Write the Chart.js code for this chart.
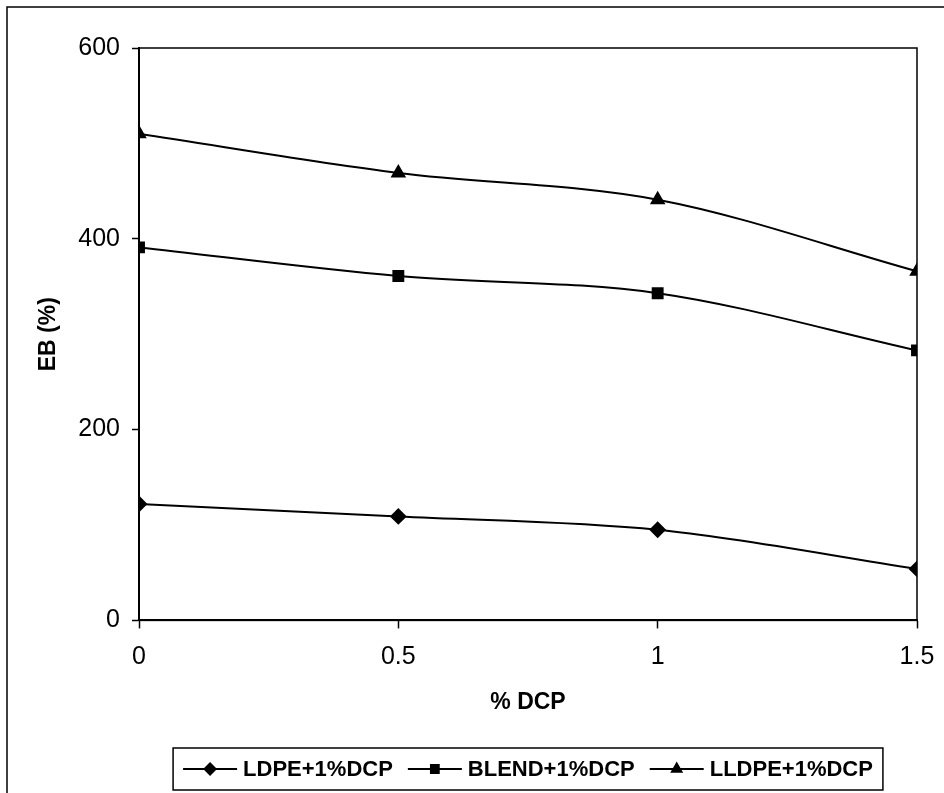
<!DOCTYPE html>
<html>
<head>
<meta charset="utf-8">
<script src="https://cdn.jsdelivr.net/npm/chart.js@4"></script>
<style>
  html, body { margin:0; padding:0; background:#fff; }
  #wrap { width:944px; height:793px; position:relative; }
</style>
</head>
<body>
<div id="wrap"><canvas id="c"></canvas></div>
<script>
// % DCP on x, EB (%) on y
const dcp = [0, 0.5, 1, 1.5];
const ldpe = [122, 109, 95, 54];
const blend = [391, 361, 343, 283];
const lldpe = [510, 469, 441, 366];
const seriesNames = ['LDPE+1%DCP', 'BLEND+1%DCP', 'LLDPE+1%DCP'];
const yTicks = [0, 200, 400, 600];
const xTicks = [0, 0.5, 1, 1.5];

const FONT = "'Liberation Sans', Arial, sans-serif";

function pts(vals){ return dcp.map((x,i)=>({x, y: vals[i]})); }

function ds(label, vals, style, r){
  return {
    label, data: pts(vals),
    borderColor:'#000', backgroundColor:'#000', borderWidth:2,
    pointStyle: style, pointRadius: r, pointHoverRadius: r,
    tension: 0.33
  };
}

// outer frame, plot frame and the legend box
const extras = {
  id:'extras',
  afterDraw(chart){
    const {ctx, chartArea:a} = chart;
    ctx.save();
    ctx.strokeStyle = '#000';
    ctx.lineWidth = 1.5;
    ctx.strokeRect(a.left, a.top, a.right - a.left, a.bottom - a.top);
    // outer border (top + left only visible)
    ctx.beginPath();
    ctx.moveTo(7, 800); ctx.lineTo(7, 7); ctx.lineTo(950, 7);
    ctx.stroke();

    // legend
    ctx.font = 'bold 22px ' + FONT;
    const lineW = 54, gap = 6, itemGap = 15, pad = 10;
    const items = chart.data.datasets.map(d => ({d, w: ctx.measureText(d.label).width}));
    let total = items.reduce((s,it)=>s + lineW + gap + it.w, 0) + itemGap*(items.length-1) + pad*2;
    const cx = (a.left + a.right)/2;
    const bx = cx - total/2, by = 748, bh = 42;
    ctx.lineWidth = 1.5;
    ctx.strokeRect(bx, by, total, bh);
    const my = by + bh/2;
    let x = bx + pad;
    ctx.fillStyle = '#000';
    ctx.textBaseline = 'middle';
    items.forEach(it => {
      ctx.lineWidth = 2;
      ctx.beginPath(); ctx.moveTo(x, my); ctx.lineTo(x + lineW, my); ctx.stroke();
      Chart.helpers.drawPoint(ctx, {pointStyle: it.d.pointStyle, radius: it.d.pointRadius - 1.5, borderWidth: 1}, x + lineW/2, my);
      ctx.fillText(it.d.label, x + lineW + gap, my + 1);
      x += lineW + gap + it.w + itemGap;
    });
    ctx.restore();
  }
};

new Chart(document.getElementById('c'), {
  type:'line',
  data:{
    datasets:[
      ds(seriesNames[0], ldpe, 'rectRot', 7),
      ds(seriesNames[1], blend, 'rect', 7),
      ds(seriesNames[2], lldpe, 'triangle', 7)
    ]
  },
  options:{
    responsive:true, maintainAspectRatio:false, animation:false,
    layout:{ padding:{ left:0, top:48, right:27, bottom:77 } },
    plugins:{ legend:{ display:false }, tooltip:{ enabled:false } },
    scales:{
      x:{
        type:'linear', min:0, max:1.5,
        afterBuildTicks(s){ s.ticks = xTicks.map(v=>({value:v})); },
        afterFit(s){ s.paddingRight = 0; s.paddingLeft = 0; },
        ticks:{ color:'#000', font:{ family:FONT, size:25 }, padding:14, maxRotation:0, callback:v=>String(v) },
        grid:{ drawOnChartArea:false, color:'#000', tickLength:8, tickWidth:1.5 },
        border:{ color:'#000', width:2 },
        title:{ display:true, text:'% DCP', color:'#000', font:{ family:FONT, size:23, weight:'bold' }, padding:{ top:2, bottom:0 } }
      },
      y:{
        min:0, max:600,
        afterBuildTicks(s){ s.ticks = yTicks.map(v=>({value:v})); },
        afterFit(s){ s.width = 139; },
        ticks:{ color:'#000', font:{ family:FONT, size:25 }, padding:12 },
        grid:{ drawOnChartArea:false, color:'#000', tickLength:7, tickWidth:1.5 },
        border:{ color:'#000', width:2 },
        title:{ display:true, text:'EB (%)', color:'#000', font:{ family:FONT, size:23, weight:'bold' }, padding:{ top:35, bottom:0 } }
      }
    }
  },
  plugins:[extras]
});
</script>
</body>
</html>
